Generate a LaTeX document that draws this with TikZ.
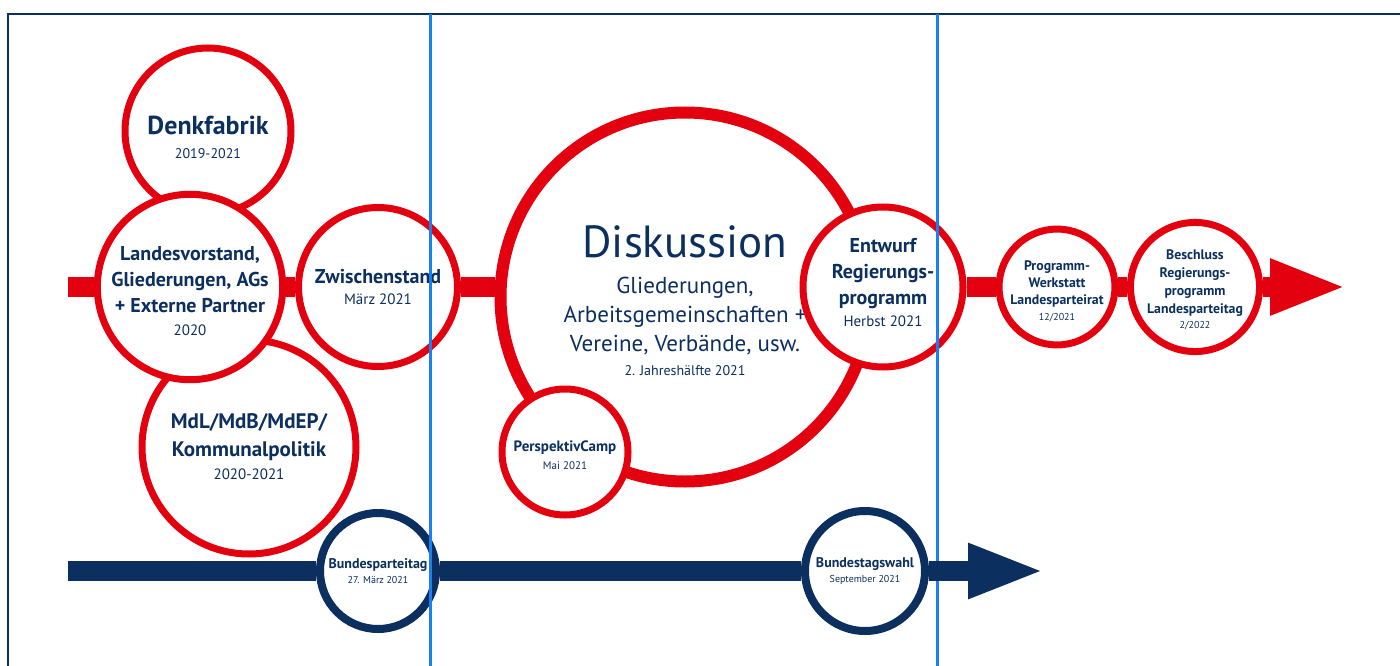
\documentclass[tikz,border=0pt]{standalone}
\usepackage{fontspec}
\setmainfont{PT Sans}
\usetikzlibrary{arrows.meta}
\definecolor{spdred}{HTML}{E3000F}
\definecolor{spdblue}{HTML}{0B2F5F}
\definecolor{lineblue}{HTML}{1A80F0}
\newcommand{\tbf}[2]{{\fontsize{#1}{#1}\selectfont\bfseries #2}}
\newcommand{\tmd}[2]{{\fontsize{#1}{#1}\selectfont #2}}
\newcommand{\padtop}[1]{\rule{0pt}{#1}}
\newcommand{\padbot}[1]{\rule[-#1]{0pt}{#1}}
\tikzstyle{redcircle}=[circle,draw=spdred,line width=7pt,fill=white,inner sep=0pt,text=spdblue,align=center]
\tikzstyle{bluecircle}=[circle,draw=spdblue,line width=8pt,fill=white,inner sep=0pt,text=spdblue,align=center]
\tikzstyle{redbar}=[draw=spdred,line width=20pt]
\tikzstyle{bluebar}=[draw=spdblue,line width=20pt]
\tikzstyle{sepline}=[draw=lineblue,line width=3pt]
\tikzstyle{frameline}=[draw=spdblue,line width=2.5pt]

\begin{document}
\begin{tikzpicture}[x=1pt,y=-1pt]
\useasboundingbox (0,0) rectangle (1400,666);

% Frame
\draw[frameline] (8,666) -- (8,14) -- (1400,14);

%left group
\node[redcircle,minimum size=166pt,font=\fontsize{24}{24}\selectfont] (denk) at (208,131)
  {\tbf{26}{\padtop{32pt}Denkfabrik}\\ \tmd{14}{2019-2021}};
\node[redcircle,minimum size=214pt,font=\fontsize{21}{28}\selectfont] (mdl) at (249,447)
  {\tbf{21}{MdL/MdB/MdEP/}\\ \tbf{21}{Kommunalpolitik}\\[-5pt] \tmd{15}{2020-2021}};
\node[redcircle,minimum size=178pt,font=\fontsize{20}{26}\selectfont] (lv) at (190,287)
  {\tbf{20}{\padtop{23pt}Landesvorstand,}\\ \tbf{20}{Gliederungen, AGs}\\ \tbf{20}{+ Externe Partner}\\[-3pt] \tmd{15}{2020}};
\node[redcircle,minimum size=159pt,font=\fontsize{20}{21}\selectfont] (zw) at (378,287)
  {\tbf{20}{Zwischenstand}\\ \tmd{15}{März 2021}};

%middle
\node[redcircle,line width=12pt,minimum size=369pt,font=\fontsize{23}{29}\selectfont] (disk) at (685,297)
  {\tmd{45}{\padtop{39pt}Diskussion}\\[7pt] \tmd{23}{Gliederungen,}\\ \tmd{23}{Arbeitsgemeinschaften +}\\ \tmd{23}{Vereine, Verbände, usw.}\\[-5pt] \tmd{14}{2. Jahreshälfte 2021}};
\node[redcircle,minimum size=160pt,font=\fontsize{20}{26}\selectfont] (entw) at (883,287)
  {\tbf{20}{Entwurf}\\ \tbf{20}{Regierungs-}\\ \tbf{20}{programm}\\[-4pt] \tmd{15}{Herbst 2021\padbot{10pt}}};
\node[redcircle,minimum size=126pt,font=\fontsize{15}{18}\selectfont] (camp) at (565,452)
  {\tbf{15}{\padtop{17pt}PerspektivCamp}\\ \tmd{11}{Mai 2021}};

%right
\node[redcircle,minimum size=113pt,font=\fontsize{13.8}{17}\selectfont] (werk) at (1057,287)
  {\tbf{13.8}{\padtop{18pt}Programm-}\\ \tbf{13.8}{Werkstatt}\\ \tbf{13.8}{Landesparteirat}\\[-1pt] \tmd{10}{12/2021}};
\node[redcircle,minimum size=116pt,font=\fontsize{13.8}{18}\selectfont] (besch) at (1195,287)
  {\tbf{13.8}{\padtop{16pt}Beschluss}\\ \tbf{13.8}{Regierungs-}\\ \tbf{13.8}{programm}\\ \tbf{13.8}{Landesparteitag}\\[-3pt] \tmd{10}{2/2022}};

%bottom
\node[bluecircle,minimum size=116pt,font=\fontsize{14}{15}\selectfont] (bpt) at (378,571)
  {\tbf{14}{Bundesparteitag}\\ \tmd{10}{27. März 2021}};
\node[bluecircle,minimum size=120pt,font=\fontsize{14}{15}\selectfont] (btw) at (865,571)
  {\tbf{14}{Bundestagswahl}\\ \tmd{10}{September 2021}};

% Separators
\foreach \xx in {430,937}
  \draw[sepline] (\xx,14) -- (\xx,666);

% Bars
\coordinate (rstart) at (68,287);
\coordinate (rtip) at (1347,287);
\coordinate (bstart) at (68,571);
\coordinate (btip) at (1045,571);
\foreach \source/\dest in {rstart/lv, lv/zw, entw/werk, werk/besch}
  \path[redbar] (\source) -- (\dest);
\path[redbar] (zw) -- (zw -| disk.west);
\path[redbar,-{Triangle[length=77pt,width=51pt]}] (besch) -- (rtip);
\foreach \source/\dest in {bstart/bpt, bpt/btw}
  \path[bluebar] (\source) -- (\dest);
\path[bluebar,-{Triangle[length=77pt,width=50pt]}] (btw) -- (btip);

\end{tikzpicture}
\end{document}
